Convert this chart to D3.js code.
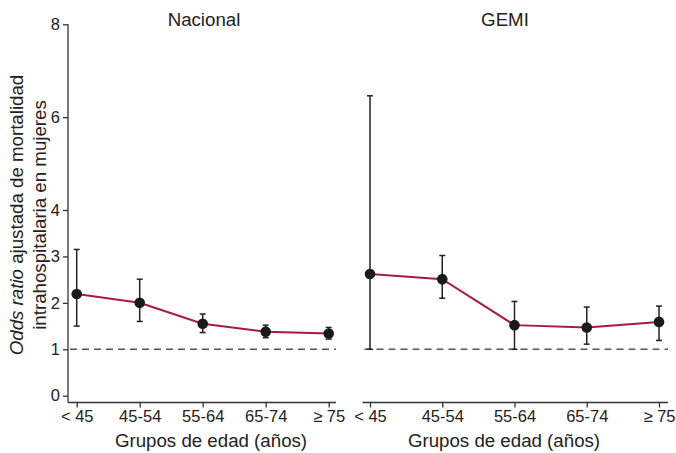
<!DOCTYPE html>
<html><head><meta charset="utf-8">
<script src="https://cdn.jsdelivr.net/npm/d3@7"></script>
<style>
body{margin:0;background:#fff;}
text{font-family:"Liberation Sans",Arial,sans-serif;fill:#222;}
</style></head>
<body>
<svg id="c" width="676" height="453"></svg>
<script>
const categories = ["< 45","45-54","55-64","65-74","≥ 75"];
const panelTitles = ["Nacional","GEMI"];
const nacionalOR  = [2.19, 2.00, 1.55, 1.38, 1.34];
const nacionalLow = [1.50, 1.60, 1.36, 1.25, 1.22];
const nacionalHigh= [3.15, 2.51, 1.76, 1.52, 1.47];
const gemiOR   = [2.62, 2.51, 1.52, 1.47, 1.59];
const gemiLow  = [1.00, 2.10, 1.00, 1.11, 1.19];
const gemiHigh = [6.46, 3.02, 2.03, 1.91, 1.93];
const yTicks = [0,1,2,3,4,6,8];
const refValue = 1;

const svg = d3.select("#c");
const y = d3.scaleLinear().domain([0,8]).range([395.7,24.3]);

const panels = [
  {title:panelTitles[0], or:nacionalOR, lo:nacionalLow, hi:nacionalHigh, x0:68, x1:336, p0:76.7, p1:328.7, yAxis:true, titleX:204, axTitleX:211},
  {title:panelTitles[1], or:gemiOR, lo:gemiLow, hi:gemiHigh, x0:362.5, x1:668, p0:370, p1:659, yAxis:false, titleX:505, axTitleX:504}
];
const axisY = 402.5;
const tickFont = 16.5, titleFont = 18.7;

panels.forEach(p=>{
  const x = d3.scalePoint().domain(categories).range([p.p0,p.p1]);
  const g = svg.append("g");
  const xa = g.append("g").attr("transform",`translate(0,${axisY})`)
    .call(d3.axisBottom(x).tickSize(5).tickPadding(3));
  xa.attr("font-size",tickFont).attr("font-family",null);
  xa.select(".domain").attr("d",`M${p.x0},0H${p.x1}`).attr("stroke","#333").attr("stroke-width",1.3);
  xa.selectAll(".tick line").attr("stroke","#333").attr("stroke-width",1.3);
  xa.selectAll(".tick text").attr("fill","#222");
  if(p.yAxis){
    const ya = g.append("g").attr("transform",`translate(${p.x0},0)`)
      .call(d3.axisLeft(y).tickValues(yTicks).tickFormat(d3.format("d")).tickSize(5).tickPadding(3));
    ya.attr("font-size",tickFont).attr("font-family",null);
    ya.select(".domain").attr("d",`M0,${y(8)}V${axisY}`).attr("stroke","#333").attr("stroke-width",1.3);
    ya.selectAll(".tick line").attr("stroke","#333").attr("stroke-width",1.3);
    ya.selectAll(".tick text").attr("fill","#222");
  }
  g.append("line").attr("x1",p.x0+2).attr("x2",p.x1).attr("y1",y(refValue)).attr("y2",y(refValue))
    .attr("stroke","#555").attr("stroke-width",1.4).attr("stroke-dasharray","7,5");
  const eb = g.append("g").attr("stroke","#222").attr("stroke-width",1.5);
  categories.forEach((c,i)=>{
    const cx = x(c);
    eb.append("line").attr("x1",cx).attr("x2",cx).attr("y1",y(p.lo[i])).attr("y2",y(p.hi[i]));
    eb.append("line").attr("x1",cx-3).attr("x2",cx+3).attr("y1",y(p.lo[i])).attr("y2",y(p.lo[i]));
    eb.append("line").attr("x1",cx-3).attr("x2",cx+3).attr("y1",y(p.hi[i])).attr("y2",y(p.hi[i]));
  });
  const line = d3.line().x((d,i)=>x(categories[i])).y(d=>y(d));
  g.append("path").datum(p.or).attr("d",line).attr("fill","none")
    .attr("stroke","#a51d3c").attr("stroke-width",2);
  g.selectAll("circle.pt").data(p.or).enter().append("circle")
    .attr("cx",(d,i)=>x(categories[i])).attr("cy",d=>y(d)).attr("r",5.3).attr("fill","#1a1a1a");
  g.append("text").attr("x",p.titleX).attr("y",26).attr("text-anchor","middle")
    .attr("font-size",titleFont).text(p.title);
  g.append("text").attr("x",p.axTitleX).attr("y",447).attr("text-anchor","middle")
    .attr("font-size",titleFont).text("Grupos de edad (años)");
});

const yt = svg.append("text").attr("transform","translate(0,215) rotate(-90)")
  .attr("text-anchor","middle").attr("font-size",titleFont);
const t1 = yt.append("tspan").attr("x",0).attr("y",23);
t1.append("tspan").attr("font-style","italic").text("Odds ratio");
t1.append("tspan").text(" ajustada de mortalidad");
yt.append("tspan").attr("x",0).attr("y",46).text("intrahospitalaria en mujeres");
</script>
</body></html>
